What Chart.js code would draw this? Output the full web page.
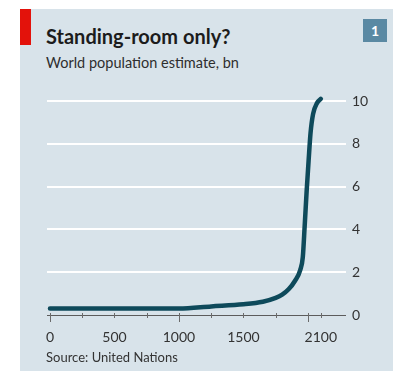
<!DOCTYPE html>
<html lang="en">

<head>
    <meta charset="UTF-8">
    <title>Standing-room only?</title>
    <style>
        html, body { margin: 0; padding: 0; background: #fff; }
        #wrap { position: relative; width: 393px; height: 371px; overflow: hidden; font-family: Lato, "Open Sans", sans-serif; }
        #panel { position: absolute; left: 20px; top: 9px; right: 0; bottom: 0; background: #d8e3ea; }
        #redbar { position: absolute; left: 20px; top: 9px; width: 11px; height: 36px; background: #e3120b; }
        #title { position: absolute; left: 46px; top: 26px; font-size: 20px; line-height: 20px; font-weight: bold; color: #1c1c1c; white-space: nowrap; }
        #subtitle { position: absolute; left: 46px; top: 55px; font-size: 14.5px; line-height: 15px; color: #2e2e2e; white-space: nowrap; }
        #source { position: absolute; left: 46px; top: 351px; font-size: 13px; line-height: 13px; color: #333; white-space: nowrap; }
        #num { position: absolute; left: 363px; top: 19px; width: 24px; height: 23px; background: #5a89a3; color: #fff; font-weight: bold; font-size: 14px; line-height: 23px; text-align: center; }
        #chartBox { position: absolute; left: 0; top: 0; width: 393px; height: 371px; }
    </style>
</head>

<body>
    <div id="wrap">
        <div id="panel"></div>
        <div id="redbar"></div>
        <div id="title">Standing-room only?</div>
        <div id="subtitle">World population estimate, bn</div>
        <div id="num">1</div>
        <div id="chartBox"><canvas id="chart" width="393" height="371"></canvas></div>
        <div id="source">Source: United Nations</div>
    </div>

    <script src="https://cdn.jsdelivr.net/npm/chart.js@4/dist/chart.umd.min.js"></script>

    <script>
        var years = [0, 500, 1000, 1250, 1500, 1650, 1750, 1800, 1850, 1900, 1940, 1960, 1975, 1990, 2005, 2020, 2040, 2070, 2100];
        var population = [0.3, 0.3, 0.3, 0.4, 0.5, 0.62, 0.8, 0.95, 1.2, 1.6, 2.1, 2.7, 4.2, 5.8, 7.2, 8.5, 9.4, 9.9, 10.1];

        var xLabels = [0, 500, 1000, 1500, 2100];
        var xMarks = [0, 250, 500, 750, 1000, 1250, 1500, 1750, 2000, 2100];
        var xMajor = [0, 1000, 2000];
        var yLabels = [0, 2, 4, 6, 8, 10];

        var points = years.map(function (y, i) { return { x: y, y: population[i] }; });

        // little tick marks under the zero line
        var tickMarks = {
            id: 'tickMarks',
            afterDraw: function (chart) {
                var ctx = chart.ctx;
                var xs = chart.scales.x;
                var y0 = chart.scales.y.getPixelForValue(0);
                ctx.save();
                ctx.strokeStyle = '#6b6b6b';
                ctx.lineWidth = 1;
                xMarks.forEach(function (v) {
                    var px = Math.round(xs.getPixelForValue(v)) + 0.5;
                    var len = xMajor.indexOf(v) >= 0 ? 7 : 3;
                    ctx.beginPath();
                    ctx.moveTo(px, y0 - 2);
                    ctx.lineTo(px, y0 + len);
                    ctx.stroke();
                });
                ctx.restore();
            }
        };

        new Chart(document.getElementById('chart'), {
            type: 'line',
            data: {
                datasets: [{
                    data: points,
                    borderColor: '#0e4a5b',
                    borderWidth: 4.5,
                    pointRadius: 0,
                    cubicInterpolationMode: 'monotone',
                    borderCapStyle: 'round',
                    clip: false
                }]
            },
            plugins: [tickMarks],
            options: {
                responsive: false,
                animation: false,
                events: [],
                layout: { padding: { left: 47, top: 101, right: 0, bottom: 0 } },
                plugins: { legend: { display: false }, tooltip: { enabled: false } },
                scales: {
                    x: {
                        type: 'linear',
                        min: -23,
                        max: 2295,
                        afterBuildTicks: function (s) { s.ticks = xLabels.map(function (v) { return { value: v }; }); },
                        afterFit: function (s) { s.height = 56; },
                        grid: { display: false, drawTicks: false },
                        border: { display: false },
                        ticks: {
                            padding: 14,
                            maxRotation: 0,
                            autoSkip: false,
                            color: '#333',
                            font: { family: 'Lato', size: 14 },
                            callback: function (v) { return String(v); }
                        }
                    },
                    y: {
                        position: 'right',
                        min: 0,
                        max: 10,
                        afterBuildTicks: function (s) { s.ticks = yLabels.map(function (v) { return { value: v }; }); },
                        afterFit: function (s) { s.width = 47; },
                        grid: {
                            drawTicks: false,
                            color: function (c) { return c.tick && c.tick.value === 0 ? '#5c5c5c' : '#ffffff'; },
                            lineWidth: function (c) { return c.tick && c.tick.value === 0 ? 1 : 2; }
                        },
                        border: { display: false },
                        ticks: {
                            padding: 6,
                            color: '#333',
                            font: { family: 'Lato', size: 14 },
                            callback: function (v) { return String(v); }
                        }
                    }
                }
            }
        });
    </script>
</body>

</html>
